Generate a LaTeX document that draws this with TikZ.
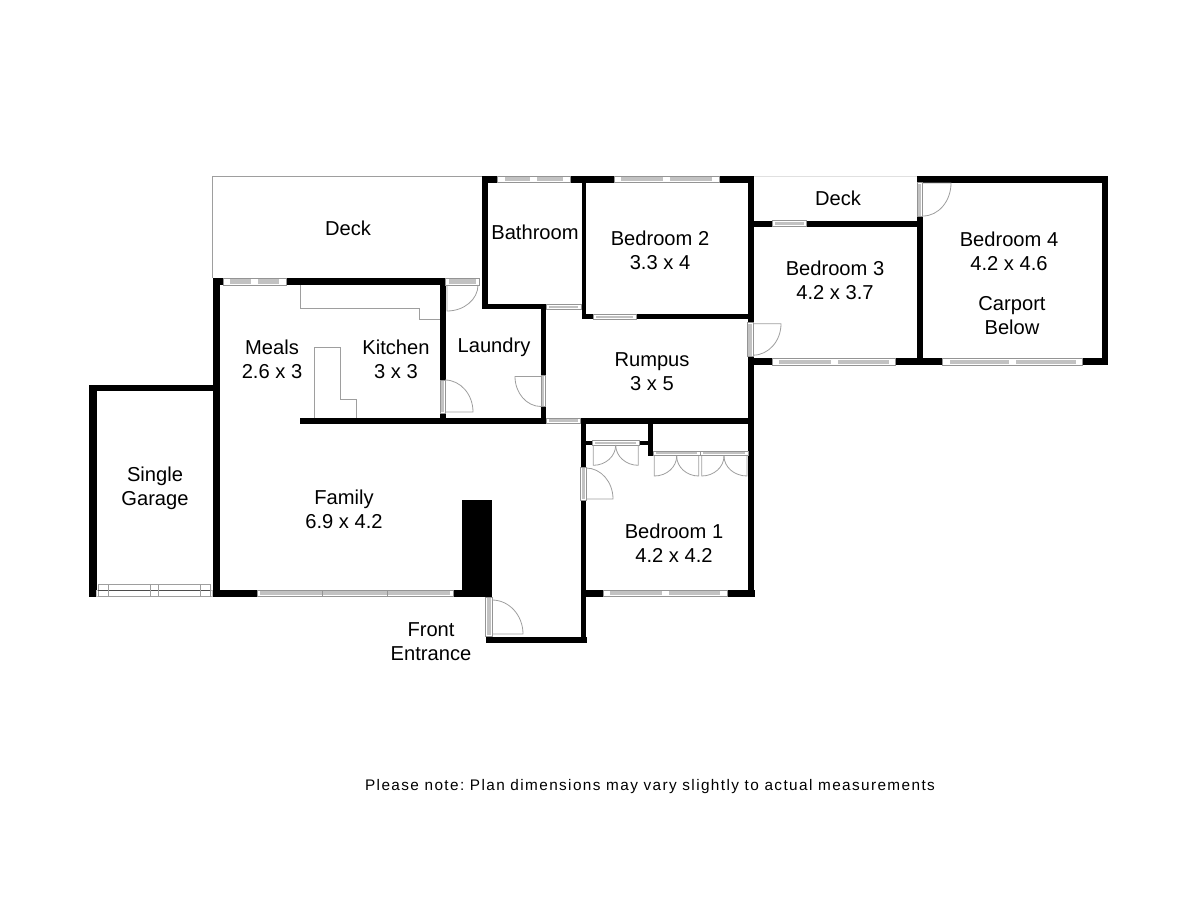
\documentclass[tikz,border=0pt]{standalone}
\usepackage{fontspec}
\setmainfont{Liberation Sans}
\newfontfamily\notefont[LetterSpace=9.1]{Liberation Sans}
\definecolor{thin}{gray}{0.62}
\definecolor{band}{gray}{0.76}
\definecolor{edge}{gray}{0.58}
\tikzset{
  x=0.75pt,y=-0.75pt,
  wall/.style={fill=black,draw=none},
  thinline/.style={draw=thin,line width=0.6pt},
  label/.style={align=center,font=\fontsize{15.1}{18}\selectfont,text=black,inner sep=0pt},
  winframe/.style={fill=white,draw=edge,line width=0.5pt},
}
% horizontal window, solid band: x0 y0 x1 y1
\newcommand{\hwin}[4]{%
  \path[winframe] (#1,#2) rectangle (#3,#4);
  \path[fill=band] (#1+3,#2+1.4) rectangle (#3-3,#4-1.4);
}
% horizontal window, sliding, with a break at mid-length: x0 y0 x1 y1
\newcommand{\hwinm}[4]{%
  \path[winframe] (#1,#2) rectangle (#3,#4);
  \path[fill=band] (#1+7,#2+1.4) rectangle ({(#1+#3)/2-3.5},#4-1.4);
  \path[fill=band] ({(#1+#3)/2+3.5},#2+1.4) rectangle (#3-7,#4-1.4);
}
\newcommand{\vwin}[4]{%
  \path[winframe] (#1,#2) rectangle (#3,#4);
  \path[fill=band] (#1+1.4,#2+1) rectangle (#3-1.4,#4-1);
}
\frenchspacing
\begin{document}
\begin{tikzpicture}
\useasboundingbox (0,0) rectangle (1200,900);
% decks
\draw[thinline] (212.5,278) -- (212.5,176) -- (482,176);
\draw[draw=black!12,line width=0.6pt] (754,176) -- (917,176);
% walls
\path[wall] (212.5,278) rectangle (445.7,285);
\path[wall] (212.5,278) rectangle (219.5,597);
\path[wall] (440,285) rectangle (445.7,423.5);
\path[wall] (89,385) rectangle (213,391);
\path[wall] (89,385) rectangle (96.5,597);
\path[wall] (300,418) rectangle (754,423.5);
\path[wall] (481.7,176) rectangle (754.3,182.7);
\path[wall] (481.7,176) rectangle (488.3,309);
\path[wall] (481.7,304.3) rectangle (581.7,309);
\path[wall] (581.7,176) rectangle (586.3,319);
\path[wall] (581.7,314.3) rectangle (750,319);
\path[wall] (748,176) rectangle (754.3,597);
\path[wall] (541,304.3) rectangle (545.7,423.5);
\path[wall] (753,220.7) rectangle (917,226.7);
\path[wall] (916.7,176) rectangle (923.3,365);
\path[wall] (916.7,176) rectangle (1108.3,182.7);
\path[wall] (1101.7,176) rectangle (1108.3,365);
\path[wall] (748,358.3) rectangle (1108.3,365);
\path[wall] (580.7,418) rectangle (585.7,643.3);
\path[wall] (585,440.7) rectangle (653,445.3);
\path[wall] (648,418) rectangle (653.3,455.7);
\path[wall] (212.5,590) rectangle (492.3,596.7);
\path[wall] (585,590) rectangle (755,596.7);
\path[wall] (462.3,500) rectangle (492.3,597);
\path[wall] (485.7,597) rectangle (492.3,643.3);
\path[wall] (485.7,636.7) rectangle (587,643.3);
% windows
\hwinm{223}{278}{286}{285}
\hwin{445.7}{278}{479}{285}
\hwinm{497.7}{176}{570}{182.7}
\hwinm{614}{176}{719}{182.7}
\hwin{546}{304.3}{581}{309}
\hwin{593}{314.3}{636}{319}
\hwin{546}{418}{580.7}{423.5}
\hwin{772}{220.7}{806.7}{226.7}
\hwinm{772.3}{358.3}{895.7}{365}
\hwinm{942.7}{358.3}{1082.7}{365}
\hwin{592}{440.7}{639.3}{445.3}
\hwin{653.3}{451}{700}{455.7}
\hwin{700}{451}{748}{455.7}
\hwinm{603.3}{590}{727.3}{596.7}
\hwin{257}{590}{453}{596.7}
\foreach \tx in {322,387} {\draw[edge,line width=0.5pt] (\tx,590) -- (\tx,596.7);}
\vwin{440}{380}{445.7}{413}
\vwin{541}{375}{545.7}{406.7}
\vwin{747}{322.7}{753.3}{356.7}
\vwin{917}{182.7}{922.7}{216.7}
\vwin{580.7}{467}{586}{500}
\vwin{485.7}{597}{492.3}{636}
% garage door
\path[fill=white,draw=band,line width=0.5pt] (96.5,590) rectangle (212.5,596.7);
\draw[thinline] (98,584) rectangle (210,596.7);
\draw[draw=black!70,line width=0.6pt] (98,590) -- (210,590);
\foreach \gx in {108.3,150,158.7,200.7} {\draw[thinline] (\gx,584) -- (\gx,596.7);}
% kitchen fittings
\draw[thinline] (300,285) -- (300,308.7) -- (419,308.7) -- (419,319) -- (440,319);
\draw[thinline] (314.7,418) -- (314.7,347) -- (340,347) -- (340,399) -- (356.7,399) -- (356.7,418);
% door swings (the y axis points down, so positive angles turn clockwise)
\draw[thinline] (447,285) -- (447,311) arc[start angle=90,delta angle=-90,x radius=31,y radius=26];
\draw[thinline] (445,412) -- (473,412) arc[start angle=0,delta angle=-90,x radius=28,y radius=32];
\draw[thinline] (541,376.5) -- (515,376.5) arc[start angle=180,delta angle=-90,x radius=26,y radius=30];
\draw[thinline] (753,323.7) -- (781,323.7) arc[start angle=0,delta angle=90,x radius=28,y radius=31.5];
\draw[thinline] (923,183) -- (951,183) arc[start angle=0,delta angle=90,x radius=28,y radius=33];
\draw[thinline] (586,499) -- (613,499) arc[start angle=0,delta angle=-90,x radius=27,y radius=31];
\draw[thinline] (492,634) -- (523,634) arc[start angle=0,delta angle=-90,x radius=31,y radius=34];
% wardrobe doors
\draw[thinline] (593.3,445) -- (593.3,465.3) arc[start angle=90,delta angle=-90,x radius=22.4,y radius=20.3];
\draw[thinline] (638.3,445) -- (638.3,465.3) arc[start angle=90,delta angle=90,x radius=22.6,y radius=20.3];
\draw[thinline] (654.3,456) -- (654.3,476) arc[start angle=90,delta angle=-90,x radius=22.4,y radius=20];
\draw[thinline] (698.7,456) -- (698.7,476) arc[start angle=90,delta angle=90,x radius=22,y radius=20];
\draw[thinline] (701.7,456) -- (701.7,476) arc[start angle=90,delta angle=-90,x radius=22.3,y radius=20];
\draw[thinline] (747,456) -- (747,476) arc[start angle=90,delta angle=90,x radius=23,y radius=20];
% labels
\node[label] (deckA) at (348,228) {Deck};
\node[label] (meals) at (272,359.5) {Meals\\2.6 x 3};
\node[label] (kitchen) at (396,359.5) {Kitchen\\3 x 3};
\node[label] (laundry) at (494,347) {Laundry};
\node[label] (bath) at (535,232) {Bathroom};
\node[label] (bed2) at (660,250) {Bedroom 2\\3.3 x 4};
\node[label] (rumpus) at (652,372) {Rumpus\\3 x 5};
\node[label] (deckB) at (838,198) {Deck};
\node[label] (bed3) at (835,280.5) {Bedroom 3\\4.2 x 3.7};
\node[label] (bed4) at (1009,251) {Bedroom 4\\4.2 x 4.6};
\node[label] (carport) at (1012,316) {Carport\\Below};
\node[label] (bed1) at (674,543.5) {Bedroom 1\\4.2 x 4.2};
\node[label] (family) at (344,509.5) {Family\\6.9 x 4.2};
\node[label] (garage) at (155,488) {Single\\Garage};
\node[label] (entrance) at (431,641.5) {Front\\Entrance};
\node[inner sep=0pt,font=\notefont\fontsize{11.5}{13}\selectfont] (note) at (650,787) {Please note: Plan dimensions may vary slightly to actual measurements};
\end{tikzpicture}
\end{document}
